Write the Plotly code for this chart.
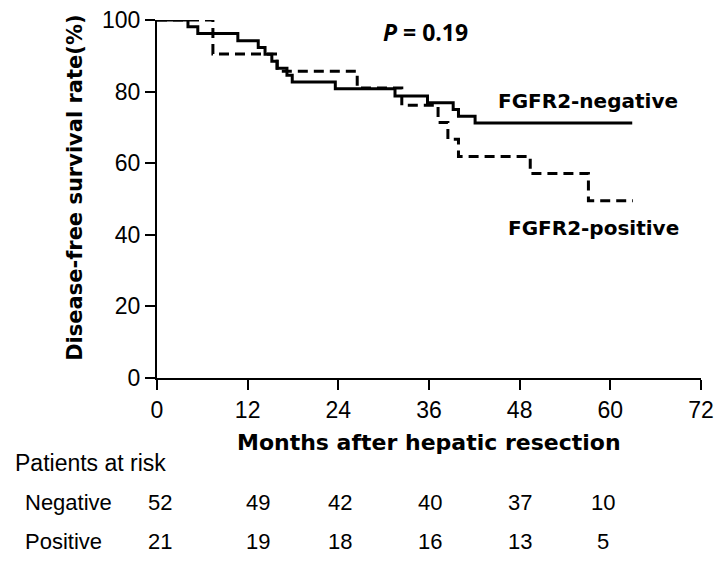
import plotly.graph_objects as go

# Kaplan-Meier step data (months, survival %)
neg_t = [0, 4.1, 5.4, 10.7, 13.4, 14.3, 15.2, 15.9, 17.2, 17.9, 23.6, 31.5, 35.8, 39.2, 39.9, 42.1, 62.9]
neg_s = [100, 98.1, 96.2, 94.2, 92.3, 90.4, 88.5, 86.5, 84.6, 82.7, 80.8, 78.8, 76.9, 75.0, 73.1, 71.2, 71.2]
pos_t = [0, 7.4, 15.9, 26.5, 32.4, 37.2, 38.5, 39.9, 49.4, 57.1, 63.0]
pos_s = [100, 90.5, 85.7, 81.0, 76.2, 71.4, 66.7, 61.9, 57.1, 49.5, 49.5]

x_ticks = [0, 12, 24, 36, 48, 60, 72]
y_ticks = [0, 20, 40, 60, 80, 100]

risk_times = [0, 12, 24, 36, 48, 60]
risk_neg = [52, 49, 42, 40, 37, 10]
risk_pos = [21, 19, 18, 16, 13, 5]
risk_shift = [3, 10, 2, 1, 0, -7]

BOLD = "DejaVu Sans"
REG = "Liberation Sans, Arial"

fig = go.Figure()
fig.add_trace(go.Scatter(x=neg_t, y=neg_s, mode="lines", line_shape="hv",
                         line=dict(color="black", width=3), cliponaxis=False,
                         name="FGFR2-negative", showlegend=False))
fig.add_trace(go.Scatter(x=pos_t, y=pos_s, mode="lines", line_shape="hv",
                         line=dict(color="black", width=3, dash="10px,6px"), cliponaxis=False,
                         name="FGFR2-positive", showlegend=False))

ann = []
ann.append(dict(x=36, y=-0.1806, xref="x", yref="paper", text="<b>Months after hepatic resection</b>",
                showarrow=False, font=dict(family=BOLD, size=22, color="black"),
                xanchor="center", yanchor="middle"))
ann.append(dict(x=-0.1508, y=0.531, xref="paper", yref="paper", text="<b>Disease-free survival rate(%)</b>",
                showarrow=False, textangle=-90, font=dict(family=BOLD, size=21, color="black"),
                xanchor="center", yanchor="middle"))
ann.append(dict(x=57.0, y=77.5, xref="x", yref="y", text="<b>FGFR2-negative</b>",
                showarrow=False, font=dict(family=BOLD, size=20, color="black"),
                xanchor="center", yanchor="middle"))
ann.append(dict(x=57.8, y=41.9, xref="x", yref="y", text="<b>FGFR2-positive</b>",
                showarrow=False, font=dict(family=BOLD, size=20, color="black"),
                xanchor="center", yanchor="middle"))
ann.append(dict(x=35.6, y=96.7, xref="x", yref="y", text="<b><i>P</i> = 0.19</b>",
                showarrow=False, font=dict(family="Open Sans", size=23, color="black"),
                xanchor="center", yanchor="middle"))
ann.append(dict(x=-0.2649, y=-0.2372, xref="paper", yref="paper", text="Patients at risk",
                showarrow=False, font=dict(family=REG, size=23, color="black"),
                xanchor="left", yanchor="middle"))
ann.append(dict(x=-0.2459, y=-0.349, xref="paper", yref="paper", text="Negative",
                showarrow=False, font=dict(family=REG, size=22, color="black"),
                xanchor="left", yanchor="middle"))
ann.append(dict(x=-0.2459, y=-0.456, xref="paper", yref="paper", text="Positive",
                showarrow=False, font=dict(family=REG, size=22, color="black"),
                xanchor="left", yanchor="middle"))
for t, n, p, s in zip(risk_times, risk_neg, risk_pos, risk_shift):
    ann.append(dict(x=t, y=-0.349, xref="x", yref="paper", text=str(n), xshift=s,
                    showarrow=False, font=dict(family=REG, size=22, color="black"),
                    xanchor="center", yanchor="middle"))
    ann.append(dict(x=t, y=-0.456, xref="x", yref="paper", text=str(p), xshift=s,
                    showarrow=False, font=dict(family=REG, size=22, color="black"),
                    xanchor="center", yanchor="middle"))

# page body has an 8px default margin; size the figure so the plot lands where the reference has it
fig.update_layout(
    width=717, height=557,
    margin=dict(l=149, r=24, t=12, b=187, autoexpand=False),
    paper_bgcolor="white", plot_bgcolor="white",
    annotations=ann,
    xaxis=dict(range=[0, 72], tickvals=x_ticks, ticktext=[str(v) for v in x_ticks],
               showline=True, linecolor="black", linewidth=2, ticks="outside",
               ticklen=10, tickwidth=2, tickcolor="black", showgrid=False, zeroline=False,
               ticklabeloverflow="allow",
               tickfont=dict(family=REG, size=23, color="black")),
    yaxis=dict(range=[0, 100], tickvals=y_ticks, ticktext=[str(v) for v in y_ticks],
               showline=True, linecolor="black", linewidth=2, ticks="outside",
               ticklen=10, tickwidth=2, tickcolor="black", showgrid=False, zeroline=False,
               ticklabeloverflow="allow",
               tickfont=dict(family=REG, size=23, color="black")),
)

fig.write_html("out.html")
